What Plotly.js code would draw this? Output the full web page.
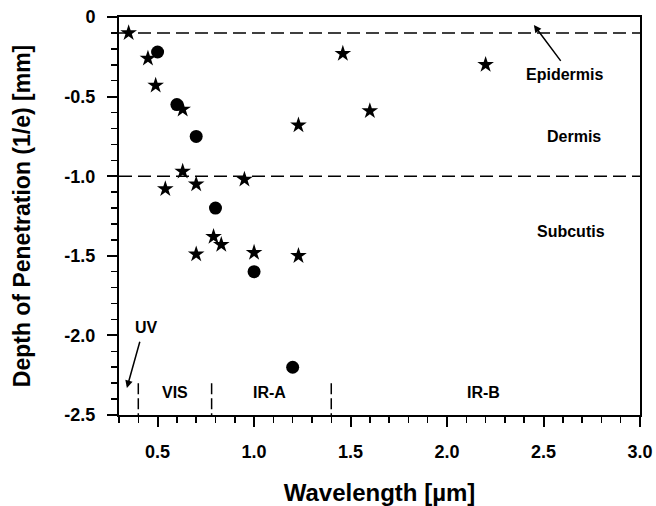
<!DOCTYPE html>
<html>
<head>
<meta charset="utf-8">
<script src="https://cdn.plot.ly/plotly-3.0.1.min.js"></script>
<style>
html,body{margin:0;padding:0;background:#fff;}
#chart{width:656px;height:506px;}
#chart .xtick text, #chart .ytick text, #chart .xtick tspan, #chart .ytick tspan {font-weight: 700 !important;}
</style>
</head>
<body>
<div id="chart"></div>
<script>
// Star series (wavelength in µm, depth in mm)
const starX = [0.35, 0.45, 0.49, 0.63, 0.63, 0.54, 0.70, 0.95, 1.23, 1.46, 1.60, 2.20, 0.79, 0.83, 0.70, 1.00, 1.23];
const starY = [-0.10, -0.26, -0.43, -0.58, -0.97, -1.08, -1.05, -1.02, -0.68, -0.23, -0.59, -0.30, -1.38, -1.43, -1.49, -1.48, -1.50];
// Circle series
const circleX = [0.5, 0.6, 0.7, 0.8, 1.0, 1.2];
const circleY = [-0.22, -0.55, -0.75, -1.20, -1.60, -2.20];
// Skin layer boundaries (depth, mm)
const layerDepths = [-0.1, -1.0];
const layerNames = ['Epidermis', 'Dermis', 'Subcutis'];
const layerLabelX = [2.61, 2.66, 2.64];
const layerLabelY = [-0.36, -0.75, -1.35];
// Spectral band boundaries (µm)
const bandEdges = [0.4, 0.78, 1.4];
const bandNames = ['VIS', 'IR-A', 'IR-B'];
const bandLabelX = [0.59, 1.08, 2.19];
// Tick labels
const yTickVals = [0, -0.5, -1.0, -1.5, -2.0, -2.5];
const yTickText = ['0', '-0.5', '-1.0', '-1.5', '-2.0', '-2.5'];
const xTickVals = [0.5, 1.0, 1.5, 2.0, 2.5, 3.0];
const xTickText = ['0.5', '1.0', '1.5', '2.0', '2.5', '3.0'];

const FONT = 'Liberation Sans, Arial, sans-serif';
const lblFont = {family: FONT, size: 16, color: '#000', weight: 'bold'};
const bold = s => '<b>' + s + '</b>';

const traces = [
  {x: starX, y: starY, type: 'scatter', mode: 'markers',
   marker: {symbol: 'star', size: 12.5, color: '#000'}, hoverinfo: 'x+y'},
  {x: circleX, y: circleY, type: 'scatter', mode: 'markers',
   marker: {symbol: 'circle', size: 13, color: '#000'}, hoverinfo: 'x+y'}
];

const shapes = [];
layerDepths.forEach(d => shapes.push({
  type: 'line', xref: 'paper', x0: 0, x1: 1, yref: 'y', y0: d, y1: d,
  line: {color: '#000', width: 1.5, dash: '13px,6px'}
}));
bandEdges.forEach(b => shapes.push({
  type: 'line', xref: 'x', x0: b, x1: b, yref: 'y', y0: -2.3, y1: -2.5,
  line: {color: '#000', width: 1.5, dash: '11px,4px'}
}));

const annotations = [];
layerNames.forEach((n, i) => annotations.push({
  x: layerLabelX[i], y: layerLabelY[i], xref: 'x', yref: 'y', text: bold(n), showarrow: false, font: lblFont
}));
bandNames.forEach((n, i) => annotations.push({
  x: bandLabelX[i], y: -2.36, xref: 'x', yref: 'y', text: bold(n), showarrow: false, font: lblFont
}));
annotations.push({x: 0.44, y: -1.95, xref: 'x', yref: 'y', text: bold('UV'), showarrow: false, font: lblFont});
// arrows
annotations.push({x: 2.45, y: -0.05, ax: 2.595, ay: -0.285, xref: 'x', yref: 'y', axref: 'x', ayref: 'y',
  text: '', showarrow: true, arrowhead: 2, arrowsize: 1, arrowwidth: 1.5, arrowcolor: '#000', standoff: 0});
annotations.push({x: 0.341, y: -2.33, ax: 0.41, ay: -2.03, xref: 'x', yref: 'y', axref: 'x', ayref: 'y',
  text: '', showarrow: true, arrowhead: 2, arrowsize: 1, arrowwidth: 1.5, arrowcolor: '#000', standoff: 0});

const layout = {
  width: 656, height: 506,
  margin: {l: 119, r: 16, t: 17, b: 91},
  paper_bgcolor: '#fff', plot_bgcolor: '#fff',
  showlegend: false,
  font: {family: FONT, color: '#000'},
  xaxis: {
    range: [0.3, 3.0], tickmode: 'array', tickvals: xTickVals, ticktext: xTickText.map(bold),
    ticks: 'outside', ticklen: 10, tickwidth: 2, tickcolor: '#000',
    minor: {tickmode: 'linear', tick0: 0.3, dtick: 0.1, ticks: 'outside', ticklen: 6, tickwidth: 1.5, tickcolor: '#000'},
    showline: true, linewidth: 2, linecolor: '#000', mirror: true,
    showgrid: false, zeroline: false, automargin: false,
    tickfont: {family: FONT, size: 18, color: '#000', weight: 'bold'},
    ticklabelstandoff: 9,
    title: {text: bold('Wavelength [µm]'), standoff: 25, font: {family: FONT, size: 24, color: '#000', weight: 'bold'}}
  },
  yaxis: {
    range: [-2.5, 0], tickmode: 'array', tickvals: yTickVals, ticktext: yTickText.map(bold),
    ticks: 'outside', ticklen: 10, tickwidth: 2, tickcolor: '#000',
    minor: {tickmode: 'linear', tick0: 0, dtick: 0.1, ticks: 'outside', ticklen: 6, tickwidth: 1.5, tickcolor: '#000'},
    showline: true, linewidth: 2, linecolor: '#000', mirror: true,
    showgrid: false, zeroline: false, automargin: false,
    tickfont: {family: FONT, size: 18, color: '#000', weight: 'bold'},
    ticklabelstandoff: 8,
    title: {text: bold('Depth of Penetration (1/e) [mm]'), standoff: 27, font: {family: FONT, size: 23, color: '#000', weight: 'bold'}}
  },
  shapes: shapes,
  annotations: annotations
};

Plotly.newPlot('chart', traces, layout, {displayModeBar: false, staticPlot: true});
</script>
</body>
</html>
